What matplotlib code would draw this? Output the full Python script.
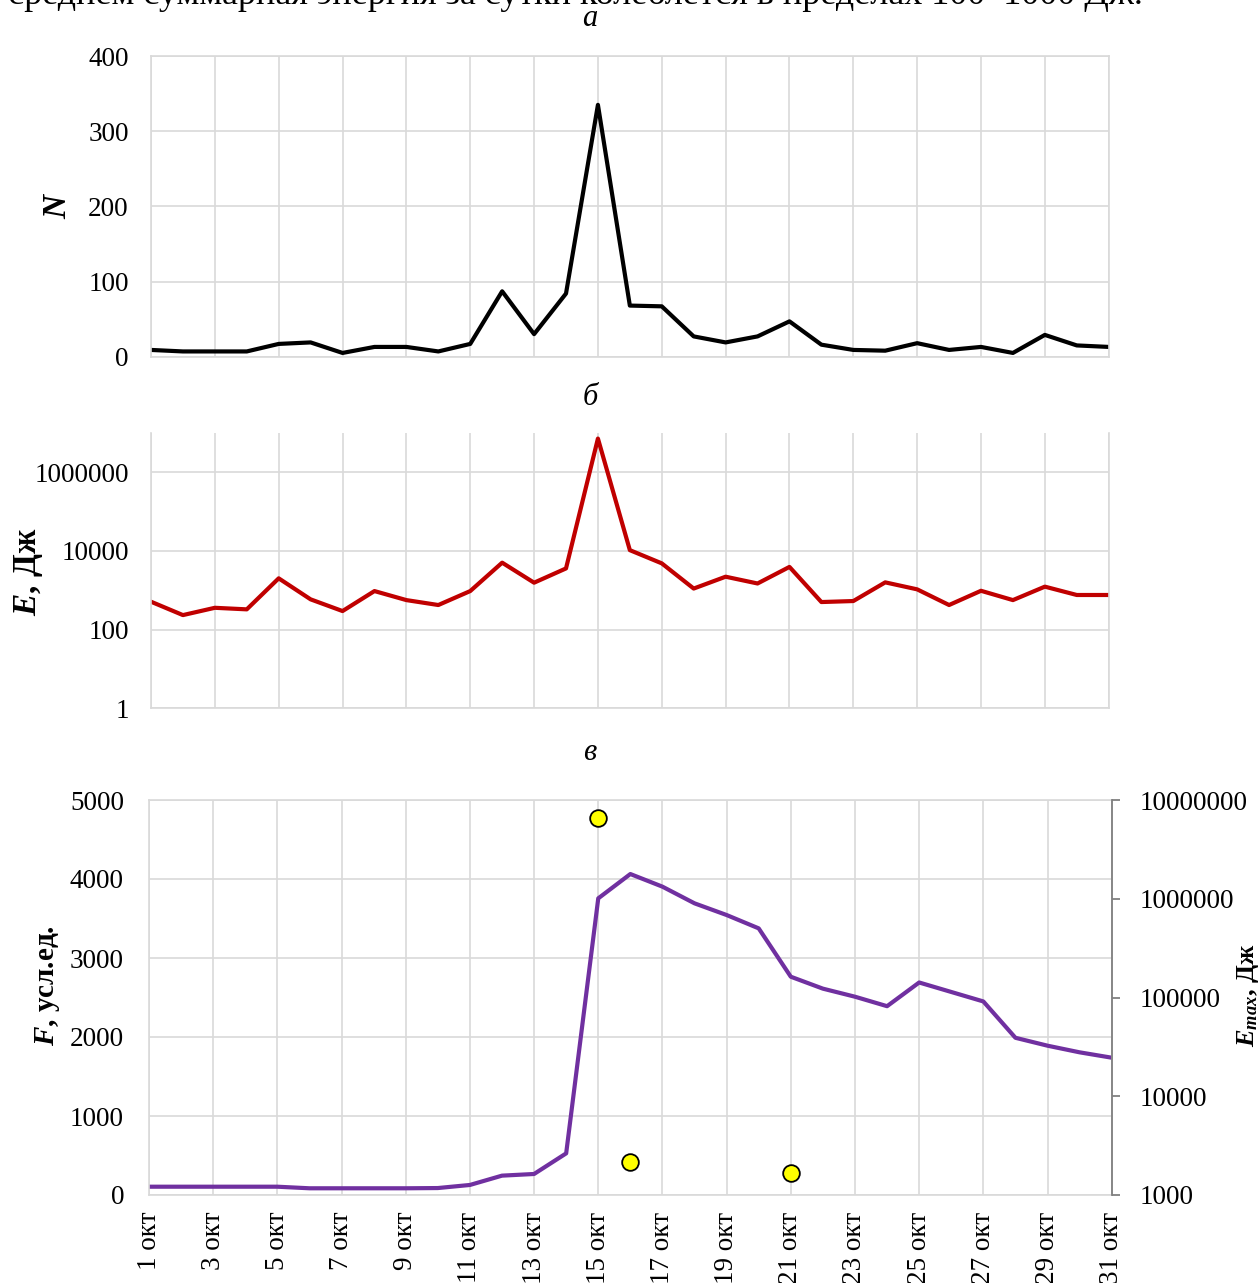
import matplotlib
matplotlib.use("Agg")
import matplotlib.pyplot as plt
from matplotlib.ticker import FixedLocator, NullLocator, NullFormatter

plt.rcParams["font.family"] = ["Liberation Serif", "DejaVu Serif"]
plt.rcParams["mathtext.fontset"] = "custom"
plt.rcParams["mathtext.rm"] = "Liberation Serif"
plt.rcParams["mathtext.it"] = "Liberation Serif:italic"
plt.rcParams["mathtext.bf"] = "Liberation Serif:bold"
plt.rcParams["mathtext.bfit"] = "Liberation Serif:italic:bold"

# data: 1..31 October
days = list(range(1, 32))
tick_days = list(range(1, 32, 2))
tick_labels = [f"{d} окт" for d in tick_days]

# a: number of events
n_events = [9, 7, 7, 7, 17, 19, 5, 13, 13, 7, 17, 87, 30, 84, 335, 68,
            67, 27, 19, 27, 47, 16, 9, 8, 18, 9, 13, 5, 29, 15, 13]

# б: daily total energy, J
energy = [510, 233, 357, 326, 2000, 585, 295, 950, 560, 420, 950, 5000,
          1550, 3570, 7.1e6, 10400, 4800, 1100, 2200, 1480, 3900, 500,
          530, 1580, 1050, 420, 965, 560, 1230, 755, 755]

# в: F (conventional units) and max event energy
f_values = [105, 105, 105, 105, 105, 85, 85, 85, 85, 88, 127, 245, 266,
            527, 3755, 4063, 3903, 3692, 3544, 3375, 2763, 2612, 2510,
            2390, 2690, 2570, 2450, 1990, 1890, 1806, 1738]
emax_days = [15, 16, 21]
emax_values = [6.5e6, 2170, 1660]

GRID = "#d9d9d9"
FS = 19.5


def style_axis(ax):
    ax.set_xlim(1, 31)
    ax.xaxis.set_major_locator(FixedLocator(tick_days))
    ax.grid(True, color=GRID, linewidth=1.2)
    ax.set_axisbelow(True)
    for side in ax.spines.values():
        side.set_color(GRID)
        side.set_linewidth(1.2)
    ax.tick_params(axis="both", length=0, labelsize=FS)
    ax.tick_params(axis="y", pad=16)


W, H = 1260, 1283
fig = plt.figure(figsize=(W / 100, H / 100), dpi=100)

fig.text(1143 / W, 1 - 4 / H,
         "В среднем суммарная энергия за сутки колеблется в пределах 100–1000 Дж.",
         ha="right", va="baseline", fontsize=26)

# panel a
ax1 = fig.add_axes([151 / W, 1 - 356.7 / H, 957.7 / W, 300.7 / H])
ax1.plot(days, n_events, color="black", linewidth=3)
style_axis(ax1)
ax1.set_ylim(0, 400)
ax1.set_yticks([0, 100, 200, 300, 400])
ax1.set_xticklabels([])
ax1.set_ylabel(r"$\mathbfit{N}$", fontsize=24)
ax1.yaxis.set_label_coords(-0.0815, 0.504)
fig.text(590 / W, 1 - 19 / H, "а", style="italic", fontsize=22, ha="center", va="center")

# panel б
ax2 = fig.add_axes([151 / W, 1 - 708.3 / H, 957.7 / W, 275.6 / H])
ax2.plot(days, energy, color="#c00000", linewidth=3)
style_axis(ax2)
ax2.set_yscale("log")
ax2.set_ylim(1, 1e7)
ax2.yaxis.set_major_locator(FixedLocator([1, 100, 1e4, 1e6]))
ax2.yaxis.set_minor_locator(NullLocator())
ax2.set_yticklabels(["1", "100", "10000", "1000000"])
ax2.set_xticklabels([])
ax2.spines["top"].set_visible(False)
ax2.set_ylabel(r"$\mathbfit{E}$, Дж", fontsize=24, fontweight="bold")
ax2.yaxis.set_label_coords(-0.111, 0.497)
fig.text(590 / W, 1 - 398 / H, "б", style="italic", fontsize=22, ha="center", va="center")

# panel в
ax3 = fig.add_axes([149 / W, 1 - 1195 / H, 962.7 / W, 395 / H])
ax3.plot(days, f_values, color="#7030a0", linewidth=3)
style_axis(ax3)
ax3.set_ylim(0, 5000)
ax3.set_yticks(range(0, 5001, 1000))
ax3.set_xticklabels(tick_labels, rotation=90)
ax3.tick_params(axis="x", pad=12)
ax3.tick_params(axis="y", pad=18)
ax3.set_ylabel(r"$\mathbfit{F}$, усл.ед.", fontsize=21, fontweight="bold")
ax3.yaxis.set_label_coords(-0.0904, 0.53)
fig.text(590 / W, 1 - 752 / H, "в", style="italic", fontsize=22, ha="center", va="center")

ax4 = ax3.twinx()
ax4.set_yscale("log")
ax4.set_ylim(1000, 1e7)
ax4.yaxis.set_major_locator(FixedLocator([1e3, 1e4, 1e5, 1e6, 1e7]))
ax4.yaxis.set_minor_locator(NullLocator())
ax4.yaxis.set_minor_formatter(NullFormatter())
ax4.set_yticklabels(["1000", "10000", "100000", "1000000", "10000000"])
ax4.plot(emax_days, emax_values, linestyle="none", marker="o", markersize=12,
         markerfacecolor="#ffff00", markeredgecolor="black", markeredgewidth=1.3,
         clip_on=False)
for name, side in ax4.spines.items():
    side.set_visible(name == "right")
ax4.spines["right"].set_color("#808080")
ax4.spines["right"].set_linewidth(1.3)
ax4.tick_params(axis="y", length=6, width=1.3, color="#808080", labelsize=FS, pad=14)
ax4.set_ylabel(r"$\mathbfit{E}_{\mathbfit{max}}$, Дж", fontsize=19, fontweight="bold",
               rotation=90)
ax4.yaxis.set_label_coords(1.128, 0.506)

fig.savefig("out.png", dpi=100)
